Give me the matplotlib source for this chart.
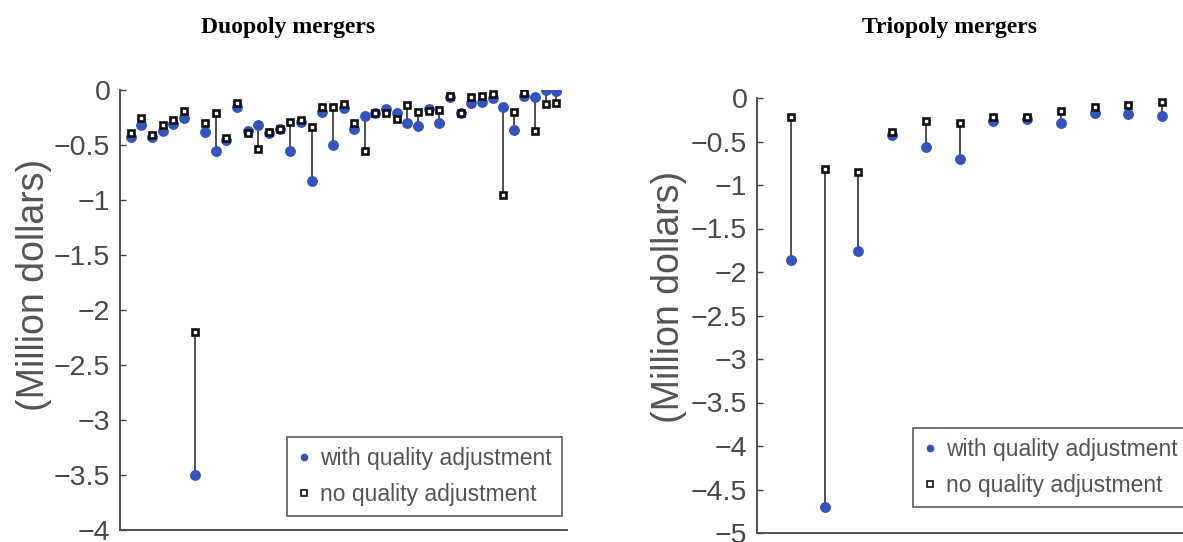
import numpy as np
import matplotlib
matplotlib.use("Agg")
import matplotlib.pyplot as plt
from matplotlib.lines import Line2D
from matplotlib.ticker import FuncFormatter

# values (million dollars)
duo_adj = [-0.43, -0.32, -0.43, -0.37, -0.31, -0.25, -3.50, -0.38, -0.55, -0.45,
           -0.15, -0.37, -0.32, -0.39, -0.35, -0.55, -0.29, -0.83, -0.20, -0.50,
           -0.16, -0.35, -0.24, -0.21, -0.17, -0.21, -0.30, -0.33, -0.17, -0.30,
           -0.06, -0.21, -0.12, -0.11, -0.07, -0.15, -0.36, -0.05, -0.06, 0.00, -0.01]
duo_noadj = [-0.39, -0.25, -0.41, -0.32, -0.27, -0.19, -2.20, -0.30, -0.21, -0.44,
             -0.12, -0.39, -0.54, -0.38, -0.35, -0.29, -0.27, -0.34, -0.15, -0.15,
             -0.13, -0.30, -0.55, -0.21, -0.21, -0.26, -0.14, -0.20, -0.19, -0.18,
             -0.05, -0.21, -0.06, -0.05, -0.04, -0.95, -0.20, -0.03, -0.37, -0.13, -0.12]

tri_adj = [-1.86, -4.70, -1.76, -0.43, -0.56, -0.70, -0.27, -0.24, -0.29, -0.17, -0.18, -0.21]
tri_noadj = [-0.22, -0.82, -0.85, -0.39, -0.26, -0.29, -0.22, -0.22, -0.15, -0.10, -0.08, -0.05]

duo_ticks = [0, -0.5, -1, -1.5, -2, -2.5, -3, -3.5, -4]
tri_ticks = [0, -0.5, -1, -1.5, -2, -2.5, -3, -3.5, -4, -4.5, -5]

BLUE = "#3355bb"
plt.rcParams["font.family"] = ["Liberation Sans", "DejaVu Sans"]


def fmt(v, pos):
    return f"{v:g}".replace("-", "\u2212")


def panel(ax, adj, noadj, ticks, ylim, xmax, leg_anchor, label_xy):
    x = np.arange(1, len(adj) + 1)
    ax.vlines(x, adj, noadj, color="#222222", lw=1.1, zorder=1)
    ax.plot(x, adj, "o", color=BLUE, ms=6.8, mec=BLUE, zorder=2)
    ax.plot(x, noadj, "s", mfc="white", mec="#111111", mew=1.9, ms=3.8, zorder=3)
    ax.set_xlim(0, xmax)
    ax.set_ylim(*ylim)
    ax.set_yticks(ticks)
    ax.yaxis.set_major_formatter(FuncFormatter(fmt))
    ax.set_xticks([])
    for s in ["top", "right"]:
        ax.spines[s].set_visible(False)
    for s in ["left", "bottom"]:
        ax.spines[s].set_color("#444444")
        ax.spines[s].set_linewidth(1.3)
    ax.tick_params(axis="y", direction="in", length=4, width=1, pad=7,
                   labelsize=20.5, colors="#444444", labelcolor="#4a4a4a")
    ax.set_ylabel("(Million dollars)", fontsize=27, color="#555555")
    ax.yaxis.set_label_coords(*label_xy)
    handles = [
        Line2D([], [], ls="none", marker="o", color=BLUE, ms=4.5),
        Line2D([], [], ls="none", marker="s", mfc="white", mec="#111111", mew=1.2, ms=4),
    ]
    leg = ax.legend(handles, ["with quality adjustment", "no quality adjustment"],
                    loc="upper left", bbox_to_anchor=leg_anchor, fontsize=16.5,
                    frameon=True, fancybox=False, handlelength=0.6,
                    handletextpad=0.4, borderpad=0.45, labelspacing=0.55,
                    borderaxespad=0)
    leg.get_frame().set_edgecolor("#333333")
    leg.get_frame().set_linewidth(1.2)
    for t in leg.get_texts():
        t.set_color("#555555")


fig = plt.figure(figsize=(11.83, 5.42), dpi=100)

ax1 = fig.add_axes([120 / 1183, 1 - 530 / 542, 447 / 1183, 440 / 542])
panel(ax1, duo_adj, duo_noadj, duo_ticks, (-4, 0), 42, (0.374, 0.211),
      (-0.152, 0.557))

ax2 = fig.add_axes([757 / 1183, 1 - 533 / 542, 439 / 1183, 435 / 542])
panel(ax2, tri_adj, tri_noadj, tri_ticks, (-5, 0), 13, (0.355, 0.241),
      (-0.16, 0.543))

fig.text(288 / 1183, 1 - 27 / 542, "Duopoly mergers", family="Liberation Serif",
         weight="bold", fontsize=17, ha="center", va="center")
fig.text(950 / 1183, 1 - 27 / 542, "Triopoly mergers", family="Liberation Serif",
         weight="bold", fontsize=17, ha="center", va="center")

fig.savefig("out.png", dpi=100)
